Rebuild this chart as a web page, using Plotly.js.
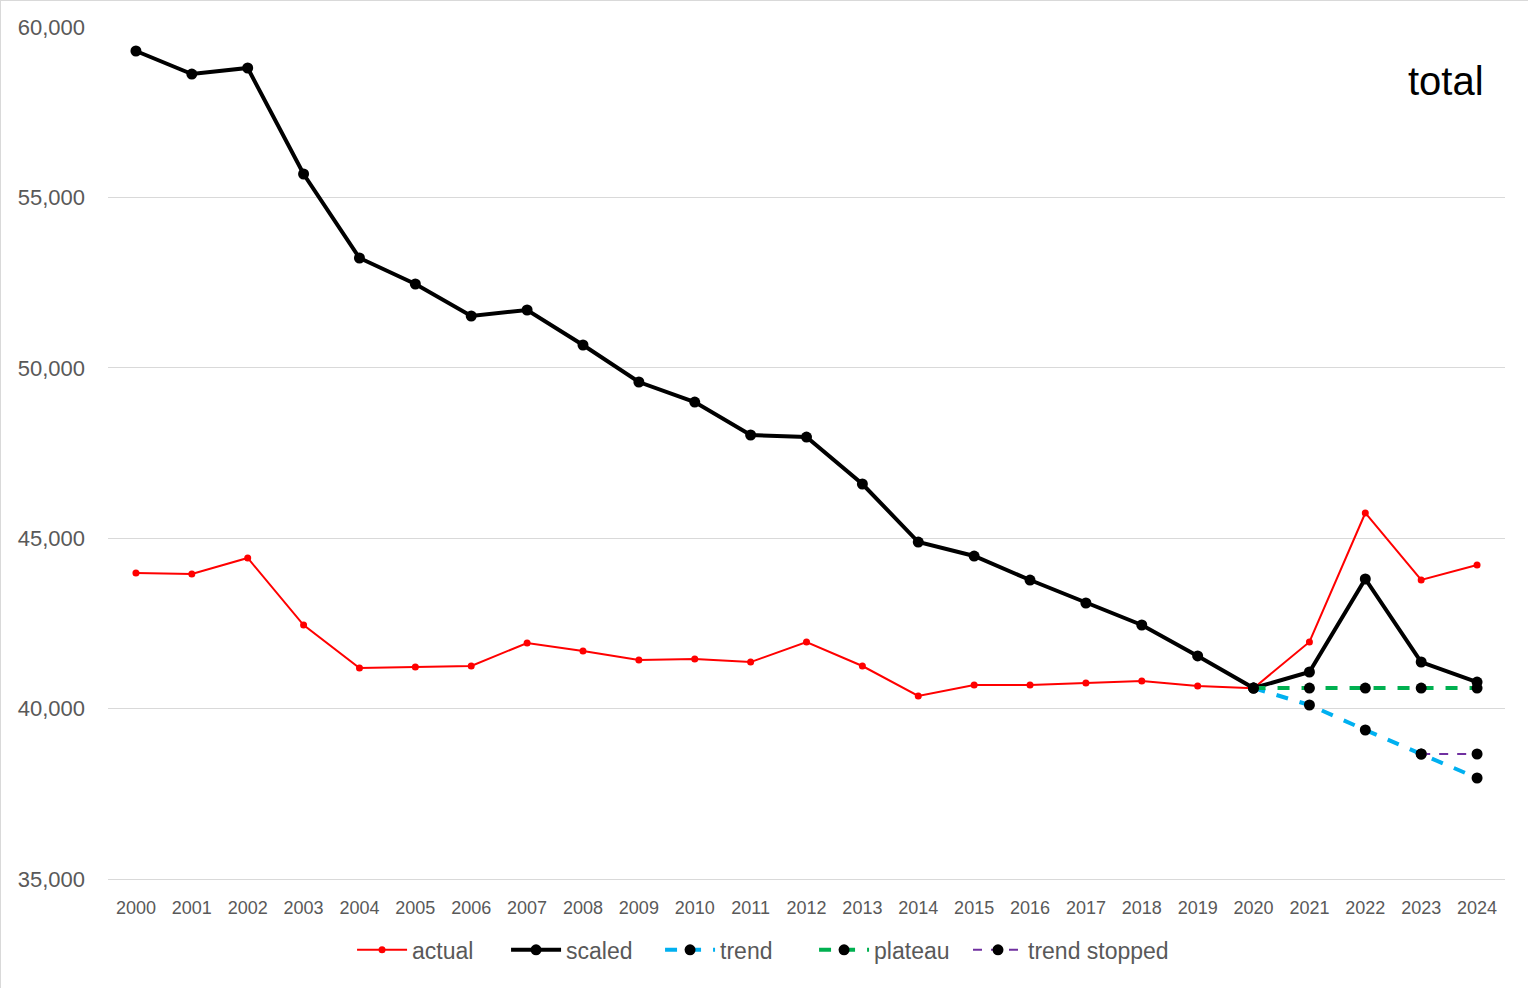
<!DOCTYPE html>
<html>
<head>
<meta charset="utf-8">
<script src="https://cdn.plot.ly/plotly-3.0.1.min.js"></script>
<style>
html,body{margin:0;padding:0;background:#fff;}
#chart{width:1528px;height:988px;box-sizing:border-box;border:1px solid #d9d9d9;}
</style>
</head>
<body>
<div id="chart"></div>
<script>
const years = ['2000','2001','2002','2003','2004','2005','2006','2007','2008','2009','2010','2011','2012','2013','2014','2015','2016','2017','2018','2019','2020','2021','2022','2023','2024'];
const actual = [43980,43950,44420,42450,41190,41220,41250,41925,41690,41425,41455,41365,41955,41250,40370,40690,40690,40750,40810,40660,40600,41955,45740,43775,44215];
const scaled = [59296,58620,58797,55687,53222,52459,51520,51696,50669,49583,48996,48028,47969,46590,44888,44477,43773,43099,42453,41544,40604,41074,43803,41367,40780];
const trendYears = ['2020','2021','2022','2023','2024'];
const trend = [40604,40106,39372,38668,37964];
const plateau = [40604,40604,40604,40604,40604];
const stoppedYears = ['2023','2024'];
const trendStopped = [38668,38668];

const traces = [
  {x: years, y: actual, name: 'actual', mode: 'lines+markers', type: 'scatter',
   line: {color: '#ff0000', width: 2}, marker: {color: '#ff0000', size: 7}},
  {x: years, y: scaled, name: 'scaled', mode: 'lines+markers', type: 'scatter',
   line: {color: '#000000', width: 4}, marker: {color: '#000000', size: 11}},
  {x: trendYears, y: trend, name: 'trend', mode: 'lines+markers', type: 'scatter',
   line: {color: '#00b0f0', width: 4, dash: 'dash'}, marker: {color: '#000000', size: 11}},
  {x: trendYears, y: plateau, name: 'plateau', mode: 'lines+markers', type: 'scatter',
   line: {color: '#00b050', width: 4, dash: 'dash'}, marker: {color: '#000000', size: 11}},
  {x: stoppedYears, y: trendStopped, name: 'trend stopped', mode: 'lines+markers', type: 'scatter',
   legend: 'legend2',
   line: {color: '#7030a0', width: 2, dash: 'dash'}, marker: {color: '#000000', size: 11}}
];

const layout = {
  width: 1528, height: 988,
  margin: {l: 107, r: 24, t: 26, b: 110},
  paper_bgcolor: '#ffffff', plot_bgcolor: '#ffffff',
  font: {family: 'Liberation Sans, Arial, sans-serif', color: '#595959'},
  xaxis: {type: 'category', range: [-0.5, 24.5], showgrid: false, showline: true,
          linecolor: '#d9d9d9', linewidth: 1, ticks: '', tickfont: {size: 18, color: '#595959'},
          ticklabelstandoff: 12, zeroline: false, fixedrange: true},
  yaxis: {range: [35000, 60000], dtick: 5000, tickformat: ',', showgrid: true,
          gridcolor: '#d9d9d9', gridwidth: 1, zeroline: false, showline: false, ticks: '',
          tickfont: {size: 22, color: '#595959'}, ticklabelstandoff: 22, fixedrange: true},
  showlegend: true,
  legend: {orientation: 'h', x: 0.1747, xanchor: 'left', y: -0.058, yanchor: 'top',
           font: {size: 23, color: '#595959'}, itemwidth: 50, entrywidth: 89, tracegroupgap: 0},
  legend2: {orientation: 'h', x: 0.6156, xanchor: 'left', y: -0.058, yanchor: 'top',
           font: {size: 23, color: '#595959'}, itemwidth: 50, tracegroupgap: 0},
  annotations: [{text: 'total', xref: 'paper', yref: 'paper', x: 0.9864, y: 0.937,
                 xanchor: 'right', yanchor: 'middle', showarrow: false,
                 font: {size: 40, color: '#000000'}}]
};
Plotly.newPlot('chart', traces, layout, {displayModeBar: false, staticPlot: true});
</script>
</body>
</html>
